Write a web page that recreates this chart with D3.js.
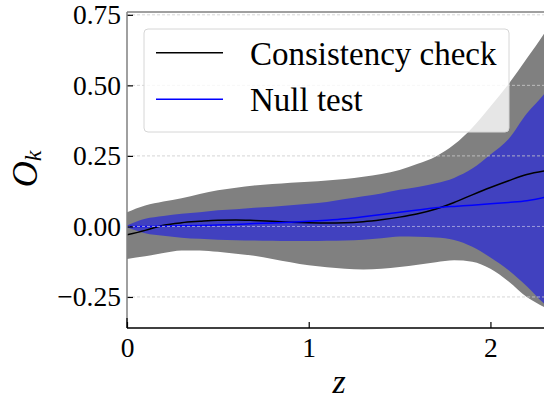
<!DOCTYPE html>
<html>
<head>
<meta charset="utf-8">
<script src="https://cdn.jsdelivr.net/npm/d3@7"></script>
<style>
  body { margin: 0; background: #fff; }
</style>
</head>
<body>
<div id="chart"></div>
<script>
const MARGIN = { LEFT: 127, RIGHT: 0, TOP: 12, BOTTOM: 72 }
const WIDTH = 544 - MARGIN.LEFT - MARGIN.RIGHT
const HEIGHT = 400 - MARGIN.TOP - MARGIN.BOTTOM

// redshift grid
const zs = [0, 0.1, 0.2, 0.3, 0.4, 0.5, 0.6, 0.7, 0.8, 0.9, 1.0, 1.1, 1.2, 1.3, 1.4, 1.5, 1.6, 1.7, 1.8, 1.9, 2.0, 2.1, 2.2, 2.3, 2.33]

// consistency check: mean and band
const checkMean = [-0.030, -0.014, 0.004, 0.013, 0.018, 0.022, 0.023, 0.021, 0.018, 0.015, 0.013, 0.012, 0.013, 0.017, 0.024, 0.033, 0.045, 0.062, 0.085, 0.112, 0.138, 0.162, 0.184, 0.197, 0.200]
const checkUpper = [0.050, 0.074, 0.088, 0.100, 0.115, 0.128, 0.137, 0.145, 0.150, 0.155, 0.158, 0.163, 0.168, 0.176, 0.186, 0.200, 0.222, 0.248, 0.290, 0.350, 0.425, 0.505, 0.595, 0.688, 0.720]
const checkLower = [-0.115, -0.106, -0.094, -0.085, -0.085, -0.090, -0.097, -0.104, -0.115, -0.127, -0.138, -0.145, -0.150, -0.153, -0.150, -0.144, -0.136, -0.127, -0.120, -0.125, -0.150, -0.195, -0.250, -0.288, -0.300]

// null test: mean and band
const nullMean = [0.000, 0.000, 0.001, 0.002, 0.003, 0.005, 0.007, 0.010, 0.012, 0.015, 0.018, 0.022, 0.027, 0.034, 0.042, 0.050, 0.058, 0.066, 0.071, 0.075, 0.080, 0.085, 0.091, 0.103, 0.108]
const nullUpper = [0.003, 0.027, 0.037, 0.045, 0.050, 0.057, 0.061, 0.066, 0.070, 0.075, 0.080, 0.087, 0.097, 0.107, 0.117, 0.130, 0.140, 0.153, 0.172, 0.205, 0.255, 0.310, 0.400, 0.473, 0.500]
const nullLower = [-0.003, -0.024, -0.033, -0.040, -0.044, -0.047, -0.049, -0.050, -0.051, -0.052, -0.052, -0.051, -0.050, -0.047, -0.042, -0.036, -0.037, -0.039, -0.048, -0.072, -0.110, -0.155, -0.212, -0.276, -0.290]

const xTicks = [0, 1, 2]
const yTicks = [-0.25, 0, 0.25, 0.5, 0.75]
const seriesNames = ["Consistency check", "Null test"]

const FONT = "Liberation Serif"

const svg = d3.select("#chart").append("svg")
  .attr("width", 544)
  .attr("height", 400)
  .style("font-family", FONT);

const g = svg.append("g")
  .attr("transform", `translate(${MARGIN.LEFT}, ${MARGIN.TOP})`);

const x = d3.scaleLinear()
  .domain([0, 2.33])
  .range([0, 423.4]);

const y = d3.scaleLinear()
  .domain([-0.36, 0.76])
  .range([HEIGHT, 0]);

svg.append("defs").append("clipPath").attr("id", "clip")
  .append("rect").attr("width", WIDTH).attr("height", HEIGHT);

const plot = g.append("g").attr("clip-path", "url(#clip)");

const band = (lo, hi) => d3.area()
  .x((d, i) => x(zs[i]))
  .y0((d, i) => y(lo[i]))
  .y1((d, i) => y(hi[i]))
  .curve(d3.curveMonotoneX);

const line = vals => d3.line()
  .x((d, i) => x(zs[i]))
  .y((d, i) => y(vals[i]))
  .curve(d3.curveMonotoneX);

plot.append("path").datum(zs)
  .attr("d", band(checkLower, checkUpper))
  .attr("fill", "#808080");

plot.append("path").datum(zs)
  .attr("d", band(nullLower, nullUpper))
  .attr("fill", "#4141bf");

// zero line
plot.append("line")
  .attr("x1", 0).attr("x2", WIDTH)
  .attr("y1", y(0)).attr("y2", y(0))
  .attr("stroke", "#0000ff")
  .attr("stroke-width", 1)
  .attr("stroke-dasharray", "3,2");

plot.append("path").datum(zs)
  .attr("d", line(checkMean))
  .attr("fill", "none")
  .attr("stroke", "#000")
  .attr("stroke-width", 1.5);

plot.append("path").datum(zs)
  .attr("d", line(nullMean))
  .attr("fill", "none")
  .attr("stroke", "#0000ff")
  .attr("stroke-width", 1.5);

// grid
g.append("g").selectAll("line").data(yTicks).enter().append("line")
  .attr("x1", 0).attr("x2", WIDTH)
  .attr("y1", d => y(d)).attr("y2", d => y(d))
  .attr("stroke", "#cccccc")
  .attr("stroke-width", 0.8)
  .attr("stroke-dasharray", "3,2");

// axes
const xAxisCall = d3.axisBottom(x).tickValues(xTicks).tickFormat(d3.format("d"))
  .tickSizeInner(-6).tickSizeOuter(0).tickPadding(9);
const xAxis = g.append("g")
  .attr("transform", `translate(0, ${HEIGHT})`)
  .call(xAxisCall);

const yAxisCall = d3.axisLeft(y).tickValues(yTicks)
  .tickFormat(d => d3.format(".2f")(d).replace("-", "\u2212"))
  .tickSizeInner(-6).tickSizeOuter(0).tickPadding(6);
const yAxis = g.append("g").call(yAxisCall);

[xAxis, yAxis].forEach(a => {
  a.attr("font-family", null).attr("font-size", null);
  a.select(".domain").remove();
  a.selectAll(".tick line").attr("stroke", "#000").attr("stroke-width", 1.2);
  a.selectAll(".tick text").attr("fill", "#000")
    .style("font-family", FONT).style("font-size", "27.5px");
});
xAxis.selectAll(".tick text").attr("dy", "0.71em");

// spines
g.append("line").attr("x1", 0).attr("x2", WIDTH).attr("y1", HEIGHT).attr("y2", HEIGHT)
  .attr("stroke", "#000").attr("stroke-width", 1.5);
g.append("line").attr("x1", 0).attr("x2", 0).attr("y1", 0).attr("y2", HEIGHT - 10)
  .attr("stroke", "#808080").attr("stroke-width", 1.5);
g.append("line").attr("x1", 0).attr("x2", 0).attr("y1", HEIGHT - 10).attr("y2", HEIGHT)
  .attr("stroke", "#000").attr("stroke-width", 1.5);
g.append("line").attr("x1", 0).attr("x2", WIDTH).attr("y1", 0).attr("y2", 0)
  .attr("stroke", "#808080").attr("stroke-width", 1.5);

// X Label
svg.append("text")
  .attr("x", 339)
  .attr("y", 393)
  .style("font-family", FONT)
  .attr("font-size", "34px")
  .attr("font-style", "italic")
  .attr("text-anchor", "middle")
  .text("z");

// Y label
const yl = svg.append("text")
  .attr("transform", "translate(37, 169) rotate(-90)")
  .style("font-family", FONT)
  .attr("font-size", "36px")
  .attr("font-style", "italic")
  .attr("text-anchor", "middle");
yl.append("tspan").text("O");
yl.append("tspan").attr("font-size", "24px").attr("dy", "4").text("k");

// legend
const legend = svg.append("g");
legend.append("rect")
  .attr("x", 144).attr("y", 29)
  .attr("width", 365).attr("height", 103)
  .attr("rx", 4)
  .attr("fill", "#fff").attr("fill-opacity", 0.8)
  .attr("stroke", "#d6d6d6").attr("stroke-width", 1);

const legendColors = ["#000", "#0000ff"];
seriesNames.forEach((name, i) => {
  const ly = 52.7 + i * 46.6;
  legend.append("line")
    .attr("x1", 156).attr("x2", 223)
    .attr("y1", ly).attr("y2", ly)
    .attr("stroke", legendColors[i]).attr("stroke-width", 1.5);
  legend.append("text")
    .attr("x", 250).attr("y", ly + 12)
    .style("font-family", FONT)
    .attr("font-size", "33px")
    .text(name);
});
</script>
</body>
</html>
